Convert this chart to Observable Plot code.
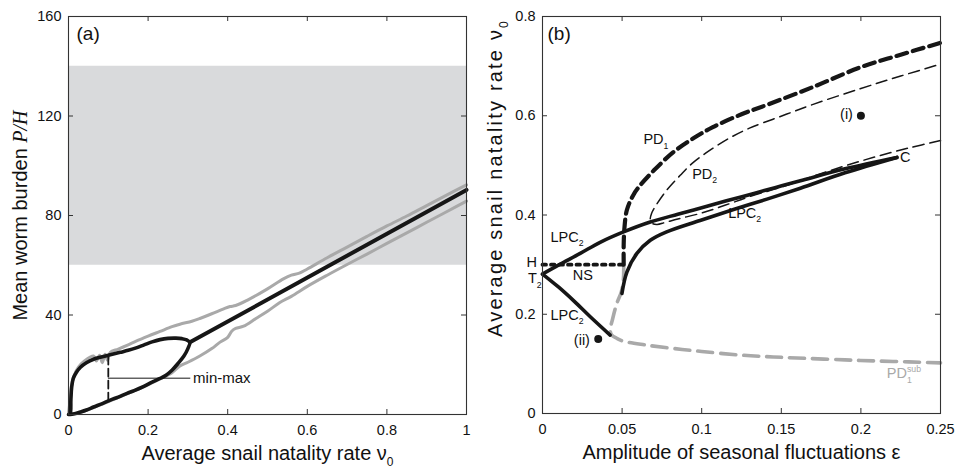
<!DOCTYPE html>
<html><head><meta charset="utf-8">
<script src="https://cdn.jsdelivr.net/npm/d3@7"></script>
<script src="https://cdn.jsdelivr.net/npm/@observablehq/plot@0.6"></script>
<style>
body{margin:0;background:#fff;}
#wrap{position:relative;width:956px;height:470px;overflow:hidden;background:#fff;}
#wrap svg{position:absolute;top:0;overflow:visible;}
</style></head><body><div id="wrap"></div>
<script>
// ---------- Panel (a) data ----------
const aXTicks = [0, 0.2, 0.4, 0.6, 0.8, 1];
const aYTicks = [0, 40, 80, 120, 160];
const aBand = [{lo: 60, hi: 140}];
const aGrayUpper = [[0,0],[0.004,6],[0.008,12],[0.015,16],[0.025,19],[0.04,21.5],[0.063,23.5],[0.07,21.5],[0.078,23.8],[0.085,20.8],[0.092,24.2],[0.098,21.8],[0.105,25],[0.125,26.3],[0.147,27.8],[0.17,29.5],[0.2,31.5],[0.23,33.4],[0.26,35.3],[0.28,36.3],[0.31,37.5],[0.33,38.6],[0.36,40.5],[0.39,42.5],[0.406,43.4],[0.42,43.8],[0.45,46],[0.5,50.5],[0.54,54.5],[0.56,56],[0.58,56.8],[0.6,58.5],[0.65,63],[0.7,67.3],[0.75,71.6],[0.8,75.8],[0.85,79.8],[0.9,84],[0.95,88.2],[1,92.3]];
const aGrayLower = [[0,0],[0.03,0.8],[0.063,2.8],[0.105,5.5],[0.147,8.3],[0.19,11.2],[0.23,14.3],[0.26,16.8],[0.28,19.5],[0.3,21],[0.33,23.5],[0.36,26.5],[0.38,29],[0.4,31],[0.41,33.5],[0.42,34.6],[0.44,35.5],[0.47,38.5],[0.5,41.5],[0.531,45],[0.56,47.5],[0.6,51.5],[0.65,56],[0.7,60.3],[0.75,64.5],[0.8,68.8],[0.85,73],[0.9,77.3],[0.95,81.5],[1,85.8]];
const aLoop = [[0,0],[0.004,0.2],[0.006,6],[0.008,11],[0.012,14.5],[0.02,17],[0.03,19],[0.045,20.8],[0.063,22.2],[0.085,23.2],[0.105,24],[0.13,25],[0.15,25.8],[0.17,26.8],[0.19,28],[0.21,29.2],[0.23,30.1],[0.25,30.6],[0.27,30.7],[0.285,30.5],[0.297,30],[0.305,29],[0.3,26.5],[0.29,23.5],[0.275,20.5],[0.26,17.8],[0.245,15.8],[0.23,14.5],[0.21,13],[0.188,11.2],[0.165,9.6],[0.147,8.5],[0.125,7],[0.105,5.8],[0.085,4.4],[0.063,3],[0.045,1.8],[0.03,1],[0.015,0.3],[0.004,0],[0,0]];
const aTail = [[0.305,29],[1,90.3]];
const aMinMaxBar = [[0.1,5.6],[0.1,23.6]];
const aLeader = [[0.1,14.6],[0.305,14.6]];
const aLabels = [{t:"min-max", x:0.313, y:14.6}];
const aTitleX = "Average snail natality rate ν_{0}";
const aTitleY = "Mean worm burden *P/H*";

// ---------- Panel (b) data ----------
const bXTicks = [0, 0.05, 0.1, 0.15, 0.2, 0.25];
const bYTicks = [0, 0.2, 0.4, 0.6, 0.8];
const bLPCUpper = [[0,0.281],[0.01,0.299],[0.0237,0.3226],[0.0362,0.345],[0.0509,0.366],[0.0677,0.386],[0.085,0.4015],[0.1,0.4145],[0.115,0.428],[0.1305,0.4415],[0.146,0.455],[0.162,0.469],[0.19,0.493],[0.2226,0.516]];
const bLPCLower = [[0.0499,0.242],[0.053,0.285],[0.0593,0.3226],[0.0677,0.349],[0.078,0.366],[0.099,0.389],[0.12,0.411],[0.141,0.432],[0.162,0.454],[0.19,0.485],[0.2226,0.516]];
const bLPCLeft = [[0,0.281],[0.01,0.255],[0.02,0.226],[0.03,0.195],[0.0425,0.158]];
const bNS = [[0,0.30],[0.051,0.30]];
const bPD1 = [[0.051,0.30],[0.051,0.34],[0.0515,0.375],[0.053,0.41],[0.057,0.44],[0.0614,0.46],[0.07,0.49],[0.0823,0.527],[0.095,0.555],[0.107,0.577],[0.125,0.603],[0.141,0.622],[0.17,0.658],[0.2,0.698],[0.225,0.723],[0.25,0.747]];
const bPD1sub = [[0.051,0.30],[0.0508,0.27],[0.0495,0.245],[0.0467,0.222],[0.044,0.19],[0.0425,0.168],[0.0435,0.158],[0.047,0.151],[0.051,0.1455],[0.065,0.138],[0.0823,0.131],[0.1,0.125],[0.124,0.1178],[0.145,0.114],[0.166,0.111],[0.19,0.108],[0.208,0.106],[0.23,0.104],[0.25,0.102]];
const bPD2 = [[0.25,0.55],[0.23,0.535],[0.21,0.518],[0.19,0.499],[0.17,0.478],[0.15,0.456],[0.13,0.437],[0.115,0.42],[0.1,0.404],[0.085,0.392],[0.077,0.385],[0.072,0.381],[0.069,0.383],[0.0677,0.391],[0.0685,0.403],[0.0707,0.4165],[0.078,0.45],[0.0865,0.48],[0.094,0.504],[0.105,0.53],[0.118,0.556],[0.13,0.575],[0.149,0.598],[0.17,0.623],[0.2,0.655],[0.225,0.68],[0.25,0.704]];
const bPoints = [{x:0.2, y:0.6}, {x:0.035, y:0.15}];
const bLabels = [
  {t:"H", x:-0.0035, y:0.304, a:"end"},
  {t:"T_{2}", x:-0.0005, y:0.272, a:"end"},
  {t:"NS", x:0.0253, y:0.279, a:"middle"},
  {t:"LPC_{2}", x:0.005, y:0.355, a:"start"},
  {t:"LPC_{2}", x:0.005, y:0.198, a:"start"},
  {t:"(ii)", x:0.0298, y:0.148, a:"end"},
  {t:"(i)", x:0.195, y:0.602, a:"end"},
  {t:"PD_{1}", x:0.0634, y:0.552, a:"start"},
  {t:"PD_{2}", x:0.094, y:0.482, a:"start"},
  {t:"LPC_{2}", x:0.1166, y:0.404, a:"start"},
  {t:"C", x:0.2245, y:0.517, a:"start"}
];
const bGrayLabels = [{t:"PD_{1}^{sub}", x:0.2163, y:0.08}];
const bTitleX = "Amplitude of seasonal fluctuations ε";
const bTitleY = "Average snail natality rate ν_{0}";

// ---------- styles ----------
const FONT = "'Liberation Sans', Arial, Helvetica, sans-serif";
const W = 478, H = 470;
const BLACK = "#161616", GRAY = "#a9a9a9", AXIS = "#333";
const px = d => d[0], py = d => d[1];
const fmt = d => String(d);

function frameTicks(xt, yt, innerW, innerH) {
  const L = 5;
  return [
    Plot.tickY(yt, {y: d => d, insetRight: innerW - L, stroke: AXIS}),
    Plot.tickY(yt, {y: d => d, insetLeft: innerW - L, stroke: AXIS}),
    Plot.tickX(xt, {x: d => d, insetTop: innerH - L, stroke: AXIS}),
    Plot.tickX(xt, {x: d => d, insetBottom: innerH - L, stroke: AXIS}),
    Plot.frame({stroke: AXIS, strokeWidth: 1.1})
  ];
}
function labelMarks(data, fill) {
  return ["start", "middle", "end"].map(a =>
    Plot.text(data.filter(d => (d.a || "start") === a),
      {x: "x", y: "y", text: "t", textAnchor: a, lineAnchor: "middle", fontSize: 14.5, fill}));
}

const mA = {l: 68, r: 12, t: 16, b: 56};
const plotA = Plot.plot({
  width: W, height: H,
  marginLeft: mA.l, marginRight: mA.r, marginTop: mA.t, marginBottom: mA.b,
  style: {fontFamily: FONT, fontSize: "14.5px", color: "#111", background: "transparent", overflow: "visible"},
  x: {domain: [0, 1], ticks: aXTicks, tickFormat: fmt, tickSize: 0, tickPadding: 10, label: null},
  y: {domain: [0, 160], ticks: aYTicks, tickFormat: fmt, tickSize: 0, tickPadding: 7, label: null},
  marks: [
    Plot.rect(aBand, {y1: "lo", y2: "hi", fill: "#d9dadc"}),
    Plot.line(aGrayUpper, {x: px, y: py, stroke: GRAY, strokeWidth: 3, curve: "catmull-rom"}),
    Plot.line(aGrayLower, {x: px, y: py, stroke: GRAY, strokeWidth: 3, curve: "catmull-rom"}),
    Plot.line(aLoop, {x: px, y: py, stroke: BLACK, strokeWidth: 3.6, curve: "catmull-rom", strokeLinejoin: "round"}),
    Plot.line(aTail, {x: px, y: py, stroke: BLACK, strokeWidth: 4}),
    Plot.line(aMinMaxBar, {x: px, y: py, stroke: BLACK, strokeWidth: 1.8, strokeDasharray: "8,4"}),
    Plot.line(aLeader, {x: px, y: py, stroke: BLACK, strokeWidth: 1}),
    Plot.text(aLabels, {x: "x", y: "y", text: "t", textAnchor: "start", lineAnchor: "middle", fontSize: 15, fill: "#111"}),
    Plot.text(["(a)"], {text: d => d, frameAnchor: "top-left", dx: 8, dy: 17, textAnchor: "start", lineAnchor: "middle", fontSize: 19, fill: "#111"}),
    Plot.text([aTitleX], {text: d => d, frameAnchor: "bottom", dy: 39, textAnchor: "middle", lineAnchor: "middle", fontSize: 20, fill: "#111"}),
    Plot.text([aTitleY], {text: d => d, frameAnchor: "left", dx: -48, rotate: -90, textAnchor: "middle", lineAnchor: "middle", fontSize: 20, fill: "#111"}),
    ...frameTicks(aXTicks, aYTicks, W - mA.l - mA.r, H - mA.t - mA.b)
  ]
});

const mB = {l: 64, r: 16, t: 16, b: 57};
const plotB = Plot.plot({
  width: W, height: H,
  marginLeft: mB.l, marginRight: mB.r, marginTop: mB.t, marginBottom: mB.b,
  style: {fontFamily: FONT, fontSize: "14.5px", color: "#111", background: "transparent", overflow: "visible"},
  x: {domain: [0, 0.25], ticks: bXTicks, tickFormat: fmt, tickSize: 0, tickPadding: 10, label: null},
  y: {domain: [0, 0.8], ticks: bYTicks, tickFormat: fmt, tickSize: 0, tickPadding: 7, label: null},
  marks: [
    Plot.line(bPD1sub, {x: px, y: py, stroke: GRAY, strokeWidth: 3.6, strokeDasharray: "15,8", curve: "catmull-rom"}),
    Plot.line(bPD2, {x: px, y: py, stroke: BLACK, strokeWidth: 1.5, strokeDasharray: "11,6", curve: "catmull-rom"}),
    Plot.line(bLPCUpper, {x: px, y: py, stroke: BLACK, strokeWidth: 3.6, curve: "catmull-rom"}),
    Plot.line(bLPCLower, {x: px, y: py, stroke: BLACK, strokeWidth: 3.6, curve: "catmull-rom"}),
    Plot.line(bLPCLeft, {x: px, y: py, stroke: BLACK, strokeWidth: 3.6, curve: "catmull-rom"}),
    Plot.line(bNS, {x: px, y: py, stroke: BLACK, strokeWidth: 3.8, strokeDasharray: "3.5,5"}),
    Plot.line(bPD1, {x: px, y: py, stroke: BLACK, strokeWidth: 4.2, strokeDasharray: "11,6", curve: "catmull-rom"}),
    Plot.dot(bPoints, {x: "x", y: "y", r: 4, fill: BLACK, stroke: "none"}),
    ...labelMarks(bLabels, "#111"),
    ...labelMarks(bGrayLabels, GRAY),
    Plot.text(["(b)"], {text: d => d, frameAnchor: "top-left", dx: 5, dy: 17, textAnchor: "start", lineAnchor: "middle", fontSize: 19, fill: "#111"}),
    Plot.text([bTitleX], {text: d => d, frameAnchor: "bottom", dy: 39, textAnchor: "middle", lineAnchor: "middle", fontSize: 20, fill: "#111"}),
    Plot.text([bTitleY], {text: d => d, frameAnchor: "left", dx: -47, dy: -37, rotate: -90, textAnchor: "middle", lineAnchor: "middle", fontSize: 20, fill: "#111"}),
    ...frameTicks(bXTicks, bYTicks, W - mB.l - mB.r, H - mB.t - mB.b)
  ]
});

const wrap = document.getElementById("wrap");
plotA.style.left = "0px";
plotB.style.left = W + "px";
wrap.appendChild(plotA);
wrap.appendChild(plotB);

// rich text: _{sub}, ^{sup}, *italic serif*
function richify(svg) {
  const NS = "http://www.w3.org/2000/svg";
  svg.querySelectorAll("text").forEach(el => {
    const s = el.textContent;
    if (!/_\{|\^\{|\*/.test(s)) return;
    const fs = parseFloat(getComputedStyle(el).fontSize) || 14;
    while (el.firstChild) el.removeChild(el.firstChild);
    const re = /_\{([^}]*)\}|\^\{([^}]*)\}|\*([^*]+)\*|([^_^*]+)/g;
    let cur = 0, m, prev = null, prevKind = null;
    while ((m = re.exec(s))) {
      const t = document.createElementNS(NS, "tspan");
      let shift = 0, kind = "n";
      if (m[1] !== undefined) { t.textContent = m[1]; t.setAttribute("font-size", (fs * 0.6).toFixed(2)); shift = fs * 0.3; kind = "sub"; }
      else if (m[2] !== undefined) { t.textContent = m[2]; t.setAttribute("font-size", (fs * 0.6).toFixed(2)); shift = -fs * 0.42; kind = "sup"; }
      else if (m[3] !== undefined) { t.textContent = m[3]; t.setAttribute("font-family", "'Liberation Serif', 'Times New Roman', serif"); t.setAttribute("font-style", "italic"); }
      else { t.textContent = m[4]; }
      if (shift !== cur) t.setAttribute("dy", (shift - cur).toFixed(2));
      cur = shift;
      el.appendChild(t);
      if (kind === "sup" && prevKind === "sub" && prev) {
        t.setAttribute("dx", (-prev.getComputedTextLength()).toFixed(2));
      }
      prev = t; prevKind = kind;
    }
  });
}
richify(plotA);
richify(plotB);
// panel (b) vertical title is set wider in the reference
plotB.querySelectorAll("text").forEach(el => {
  if (el.textContent.indexOf("Average snail") === 0) el.setAttribute("letter-spacing", "2.2");
});
</script></body></html>
